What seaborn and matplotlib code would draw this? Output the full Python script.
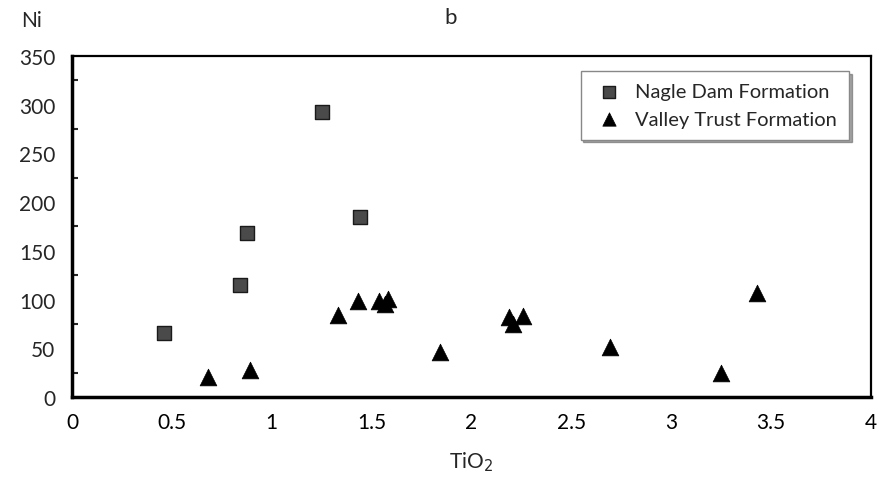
import matplotlib
matplotlib.use("Agg")
import matplotlib.pyplot as plt
import seaborn as sns
import pandas as pd
from matplotlib.ticker import MultipleLocator

# Data
nagle_tio2 = [1.25, 1.44, 0.875, 0.84, 0.46]
nagle_ni = [293, 185, 168, 115, 66]
valley_tio2 = [0.68, 0.89, 1.33, 1.43, 1.535, 1.565, 1.58, 1.84, 2.19, 2.21, 2.26, 2.695, 3.25, 3.43]
valley_ni = [20, 28, 84, 99, 99, 95, 101, 46, 82, 75, 83, 51, 25, 107]
groups = ["Nagle Dam Formation", "Valley Trust Formation"]
x_ticks = [0, 0.5, 1, 1.5, 2, 2.5, 3, 3.5, 4]
x_tick_labels = ["0", "0.5", "1", "1.5", "2", "2.5", "3", "3.5", "4"]
y_ticks = [0, 50, 100, 150, 200, 250, 300, 350]

df = pd.DataFrame({
    "TiO2": nagle_tio2 + valley_tio2,
    "Ni": nagle_ni + valley_ni,
    "Formation": [groups[0]] * len(nagle_tio2) + [groups[1]] * len(valley_tio2),
})

sns.set_style("white")
plt.rcParams["font.family"] = ["Lato", "DejaVu Sans"]

fig = plt.figure(figsize=(8.92, 4.81), dpi=100)
ax = fig.add_axes([0.0807, 0.1726, 0.8958, 0.7089])

sns.scatterplot(data=df[df.Formation == groups[0]], x="TiO2", y="Ni", marker="s", s=110,
                color="#4a4a4a", edgecolor="#1a1a1a", linewidth=1.0, ax=ax, label=groups[0])
sns.scatterplot(data=df[df.Formation == groups[1]], x="TiO2", y="Ni", marker="^", s=145,
                color="black", edgecolor="black", linewidth=0.5, ax=ax, label=groups[1])

ax.set_xlim(0, 4)
ax.set_ylim(0, 350)
ax.set_xticks(x_ticks)
ax.set_xticklabels(x_tick_labels)
ax.set_yticks(y_ticks)
ax.yaxis.set_minor_locator(MultipleLocator(25))
ax.tick_params(axis="x", direction="in", length=7, width=1.5, labelsize=15, pad=11, colors="black")
ax.tick_params(axis="y", which="major", direction="in", length=7, width=1.8, labelsize=15, pad=12)
ax.tick_params(axis="y", which="minor", direction="in", length=4, width=1.5, left=True)
for sp in ["left", "bottom"]:
    ax.spines[sp].set_linewidth(2.5)
for sp in ["top", "right"]:
    ax.spines[sp].set_linewidth(1.6)
for sp in ax.spines.values():
    sp.set_color("black")

ax.set_xlabel("TiO$_2$", fontsize=15, labelpad=12)
ax.set_ylabel("")
fig.text(0.024, 0.957, "Ni", fontsize=15, ha="left", va="center")
fig.text(0.505, 0.962, "b", fontsize=16, ha="center", va="center")

leg = ax.legend(loc="upper right", bbox_to_anchor=(0.985, 0.985), fontsize=14.5, frameon=True,
                fancybox=False, shadow=True, handletextpad=0.5, borderpad=0.6,
                labelspacing=0.5, handlelength=1.6, markerscale=0.8)
leg.get_frame().set_edgecolor("#888888")
leg.get_frame().set_linewidth(1.0)

fig.savefig("out.png", dpi=100)
